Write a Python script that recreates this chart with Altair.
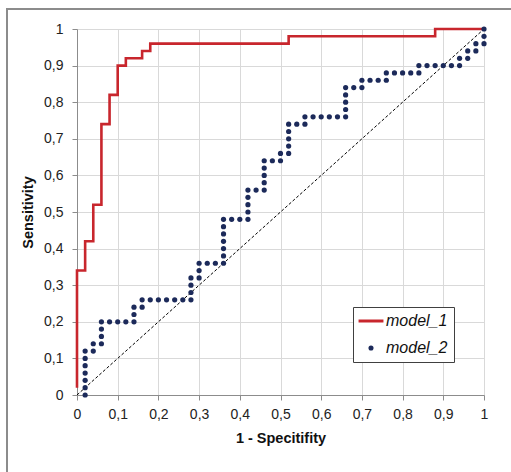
import altair as alt
import pandas as pd

# ---- data ----
m1_x = [0.00, 0.00, 0.02, 0.02, 0.04, 0.04, 0.06, 0.06, 0.08, 0.08, 0.10, 0.10,
        0.12, 0.12, 0.16, 0.16, 0.18, 0.18, 0.52, 0.52, 0.88, 0.88, 1.00]
m1_y = [0.02, 0.34, 0.34, 0.42, 0.42, 0.52, 0.52, 0.74, 0.74, 0.82, 0.82, 0.90,
        0.90, 0.92, 0.92, 0.94, 0.94, 0.96, 0.96, 0.98, 0.98, 1.00, 1.00]

m2_x = [0.02, 0.02, 0.02, 0.02, 0.02, 0.02, 0.02,
        0.04, 0.04,
        0.06, 0.06, 0.06, 0.06,
        0.08, 0.10, 0.12, 0.14, 0.14, 0.14,
        0.16, 0.16,
        0.18, 0.20, 0.22, 0.24, 0.26, 0.28, 0.28, 0.28, 0.28,
        0.30, 0.30, 0.30,
        0.32, 0.34, 0.36, 0.36, 0.36, 0.36, 0.36, 0.36, 0.36,
        0.38, 0.40, 0.42, 0.42, 0.42, 0.42, 0.42,
        0.44, 0.46, 0.46, 0.46, 0.46, 0.46,
        0.48, 0.50, 0.50,
        0.52, 0.52, 0.52, 0.52, 0.52,
        0.54, 0.56, 0.56,
        0.58, 0.60, 0.62, 0.64, 0.66, 0.66, 0.66, 0.66, 0.66,
        0.68, 0.70, 0.70,
        0.72, 0.74, 0.76, 0.76,
        0.78, 0.80, 0.82, 0.84, 0.84,
        0.86, 0.88, 0.90, 0.92, 0.94, 0.94,
        0.96, 0.96, 0.98, 0.98, 1.00, 1.00, 1.00]
m2_y = [0.00, 0.02, 0.04, 0.06, 0.08, 0.10, 0.12,
        0.12, 0.14,
        0.14, 0.16, 0.18, 0.20,
        0.20, 0.20, 0.20, 0.20, 0.22, 0.24,
        0.24, 0.26,
        0.26, 0.26, 0.26, 0.26, 0.26, 0.26, 0.28, 0.30, 0.32,
        0.32, 0.34, 0.36,
        0.36, 0.36, 0.36, 0.38, 0.40, 0.42, 0.44, 0.46, 0.48,
        0.48, 0.48, 0.48, 0.50, 0.52, 0.54, 0.56,
        0.56, 0.56, 0.58, 0.60, 0.62, 0.64,
        0.64, 0.64, 0.66,
        0.66, 0.68, 0.70, 0.72, 0.74,
        0.74, 0.74, 0.76,
        0.76, 0.76, 0.76, 0.76, 0.76, 0.78, 0.80, 0.82, 0.84,
        0.84, 0.84, 0.86,
        0.86, 0.86, 0.86, 0.88,
        0.88, 0.88, 0.88, 0.88, 0.90,
        0.90, 0.90, 0.90, 0.90, 0.90, 0.92,
        0.92, 0.94, 0.94, 0.96, 0.96, 0.98, 1.00]

diag_x = [0.0, 1.0]
diag_y = [0.0, 1.0]

tick_values = [0.0, 0.1, 0.2, 0.3, 0.4, 0.5, 0.6, 0.7, 0.8, 0.9, 1.0]
series_names = ["model_1", "model_2"]
series_colors = ["#c8262d", "#1c2a5a"]

x_title = "1 - Specitifity"
y_title = "Sensitivity"

df1 = pd.DataFrame({"x": m1_x, "y": m1_y, "series": series_names[0], "order": range(len(m1_x))})
df2 = pd.DataFrame({"x": m2_x, "y": m2_y, "series": series_names[1]})
dfd = pd.DataFrame({"x": diag_x, "y": diag_y})

FONT = "Liberation Sans, Arial, sans-serif"
label_expr = "replace(format(datum.value, '~g'), '.', ',')"

xs = alt.Scale(domain=[0, 1], nice=False, zero=False)
ys = alt.Scale(domain=[0, 1], nice=False, zero=False)

common = dict(values=tick_values, labelExpr=label_expr,
              grid=True, gridColor="#d9d9d9", gridWidth=1,
              domainColor="#8c8c8c", tickColor="#8c8c8c", tickSize=5,
              labelFont=FONT, labelFontSize=14, labelColor="#222222",
              titleFont=FONT, titleFontSize=14.5, titleFontWeight="bold", titleColor="#111111",
              labelFlush=False, labelOverlap=False, labelBound=False)
x_axis = alt.Axis(title=x_title, labelPadding=7, titlePadding=10, **common)
y_axis = alt.Axis(title=y_title, labelPadding=9, titlePadding=8, **common)

X = alt.X("x:Q", scale=xs, axis=x_axis)
Y = alt.Y("y:Q", scale=ys, axis=y_axis)

color_scale = alt.Scale(domain=series_names, range=series_colors)
legend = alt.Legend(
    orient="none", legendX=276, legendY=278, title=None,
    strokeColor="#404040", fillColor="white", padding=6,
    labelFont=FONT, labelFontStyle="italic",
    labelFontSize=16, labelColor="#111111", labelOffset=7, rowPadding=11,
    symbolOffset=4,
    symbolType={"expr": "datum.value == 'model_1' ? 'stroke' : 'circle'"},
    symbolSize={"expr": "datum.value == 'model_1' ? 620 : 26"},
    symbolStrokeWidth={"expr": "datum.value == 'model_1' ? 3 : 0"},
)

diag = alt.Chart(dfd).mark_line(color="black", strokeWidth=1, strokeDash=[3, 2]).encode(x=X, y=Y)

line1 = alt.Chart(df1).mark_line(strokeWidth=2.6).encode(
    x=X, y=Y, order="order:Q",
    color=alt.Color("series:N", scale=color_scale, legend=legend),
)

dots2 = alt.Chart(df2).mark_circle(size=27, opacity=1).encode(
    x=X, y=Y,
    color=alt.Color("series:N", scale=color_scale, legend=legend),
)

frame_left = alt.Chart(pd.DataFrame({"k": [0]})).mark_rule(color="#8c8c8c", strokeWidth=2).encode(
    x=alt.value(-70), y=alt.value(-20), y2=alt.value(480))
frame_top = alt.Chart(pd.DataFrame({"k": [0]})).mark_rule(color="#8c8c8c", strokeWidth=2).encode(
    x=alt.value(-71), x2=alt.value(480), y=alt.value(-20))

chart = alt.layer(diag, line1, dots2, frame_left, frame_top).properties(
    width=407, height=366,
    autosize=alt.AutoSizeParams(type="none"),
    padding={"left": 77, "top": 29, "right": 27, "bottom": 77},
    background="white",
).configure_view(stroke=None).configure_axis(labelOverlap=False)

chart.save("out.html", embed_options={"renderer": "svg", "actions": False})
